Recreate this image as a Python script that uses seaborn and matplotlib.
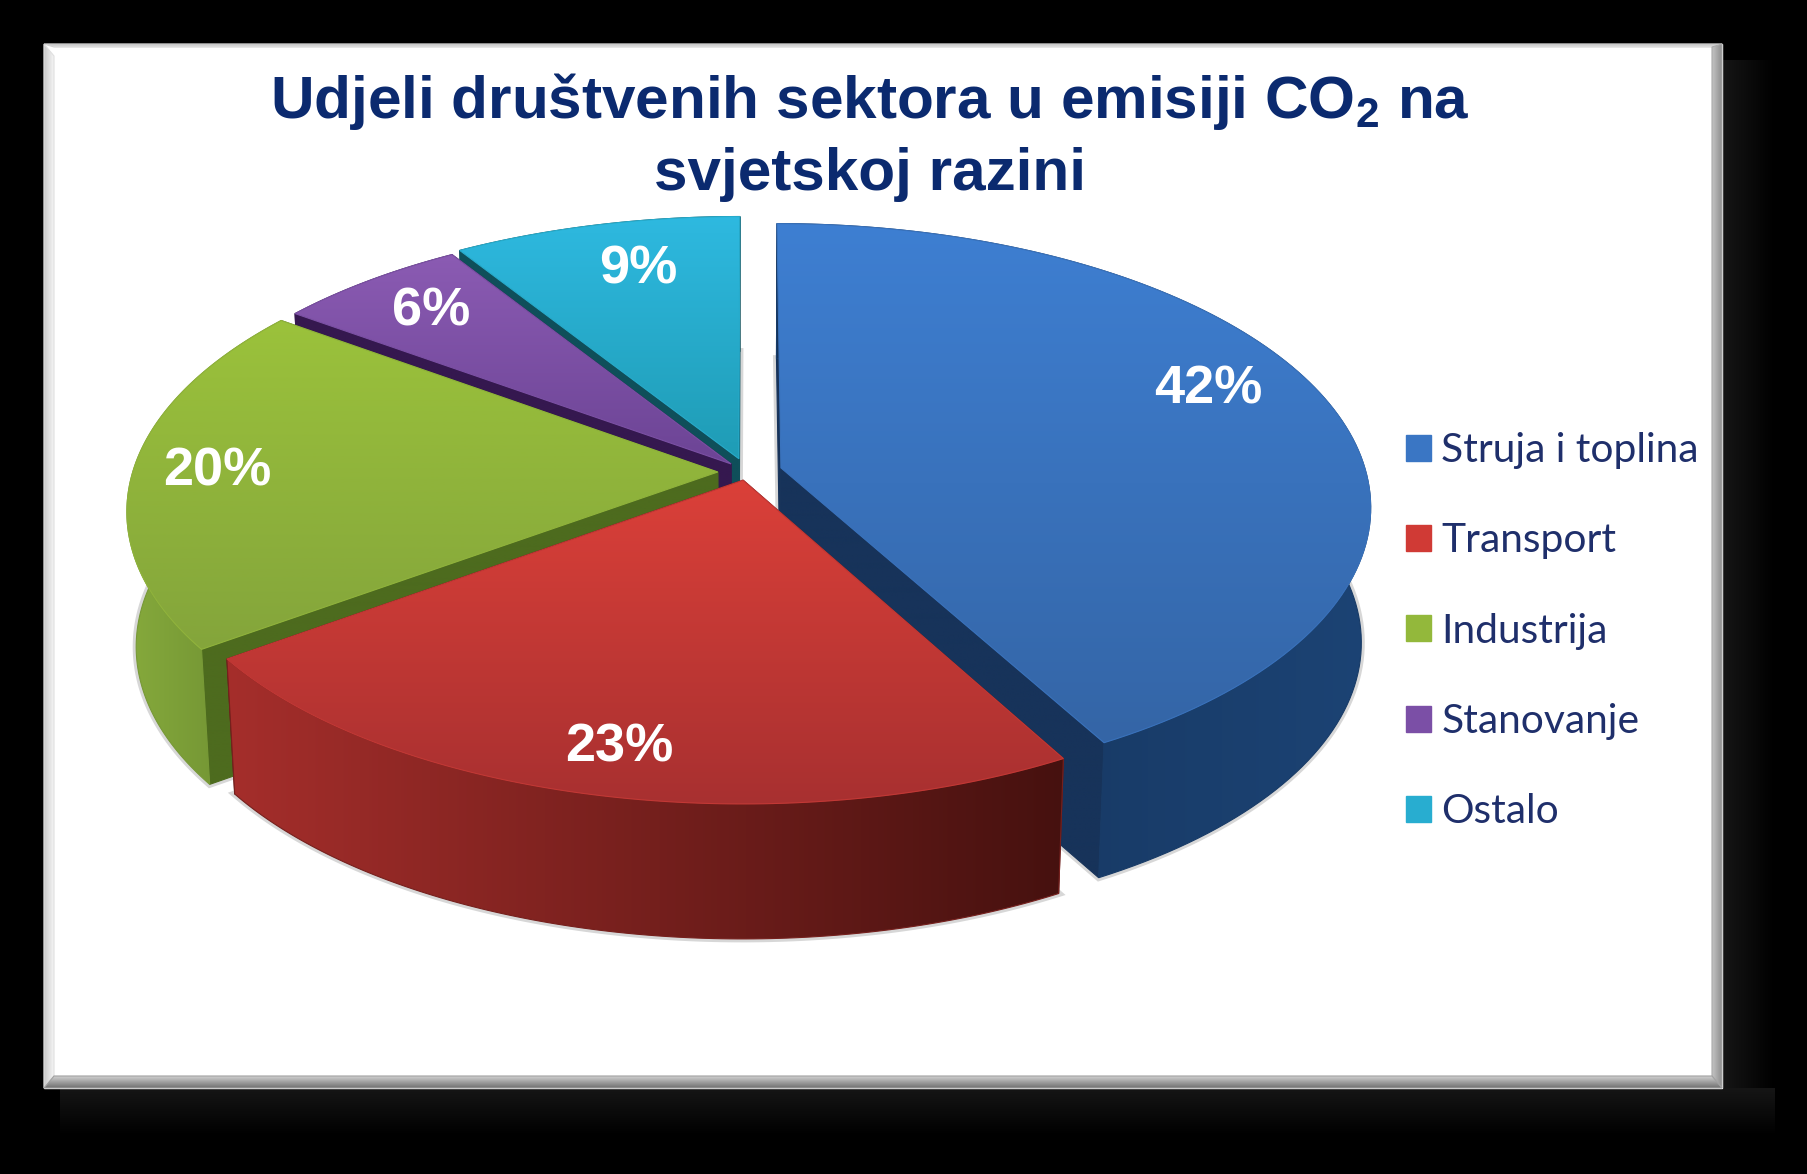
import numpy as np
import seaborn as sns
import matplotlib.pyplot as plt
from matplotlib.colors import to_rgb
from matplotlib.patches import Polygon, Patch

sns.set_theme(style='white')
plt.rcParams['font.family'] = ['Liberation Sans', 'DejaVu Sans']
plt.rcParams['mathtext.fontset'] = 'custom'
plt.rcParams['mathtext.rm'] = 'Liberation Sans:bold'
plt.rcParams['mathtext.default'] = 'rm'

sectors = ['Struja i toplina', 'Transport', 'Industrija', 'Stanovanje', 'Ostalo']
shares = [42, 23, 20, 6, 9]
explode = [0.06, 0.03, 0.05, 0.04, 0.05]

# top surface gradient (top, bottom)
top_colors = [('#3E7FD2', '#3465A6'), ('#DB4039', '#A83030'), ('#9BC23B', '#84A53B'),
              ('#8B5BB3', '#6C4495'), ('#2EB9E0', '#1F9CB5')]
# outer rim gradient (left, right), cut face colour
rim_colors = [('#14335A', '#1C4374'), ('#A52E2B', '#46110F'), ('#86AA3C', '#67872F'),
              ('#35184F', '#35184F'), ('#0F4F5A', '#0F4F5A')]
face_colors = ['#17335A', '#5E1614', '#4D6B1E', '#35184F', '#0F4F5A']
legend_colors = sns.color_palette(['#3A76C4', '#D03A35', '#93B83B', '#7B4FA6', '#28ADD0'])
label_xy = [(1208, 390), (619, 747), (217, 471), (431, 312), (638, 269)]

W, H = 1807, 1174
cx, cy = 747, 472
rx, ry, persp = 585, 278, 0.134
depth, shrink = 135, 0.985


def project(u, v):
    w = 1 + persp * v
    return cx + rx * u / w, cy - ry * v / w


def grad(poly, c0, c1, vertical=True, z=1, edge=True):
    poly = np.asarray(poly)
    x0, y0 = poly.min(axis=0)
    x1, y1 = poly.max(axis=0)
    t = np.linspace(0, 1, 256)[:, None]
    img = (1 - t) * np.array(to_rgb(c0)) + t * np.array(to_rgb(c1))
    img = img[:, None, :] if vertical else img[None, :, :]
    im = ax.imshow(img, extent=(x0, x1, y1, y0), aspect='auto', zorder=z, interpolation='bilinear')
    clip = Polygon(poly, closed=True, transform=ax.transData)
    im.set_clip_path(clip)
    if edge:
        mid = tuple((np.array(to_rgb(c0)) + np.array(to_rgb(c1))) / 2)
        ax.add_patch(Polygon(poly, closed=True, fill=False, ec=mid, lw=0.8, zorder=z))


def rect(x0, y0, x1, y1):
    return [(x0, y0), (x1, y0), (x1, y1), (x0, y1)]


fig = plt.figure(figsize=(W / 100, H / 100), dpi=100, facecolor='black')
ax = fig.add_axes([0, 0, 1, 1])
wedges, _ = ax.pie(shares, startangle=90, counterclock=False, explode=explode, radius=1)
for w in wedges:
    w.set_visible(False)
ax.set_aspect('auto')

# panel and its bevel
ax.add_patch(Polygon(rect(0, 0, W, H), color='black', zorder=0))
grad(rect(1722, 60, 1775, 1110), '#161616', '#000000', vertical=False, z=0.1, edge=False)
grad(rect(60, 1088, 1775, 1135), '#161616', '#000000', z=0.1, edge=False)
ax.add_patch(Polygon(rect(44, 44, 1722, 1088), color='white', zorder=0.2))
grad([(44, 44), (54, 56), (54, 1076), (44, 1088)], '#C8C8C8', '#F6F6F6', vertical=False, z=0.3)
grad([(44, 44), (1722, 44), (1712, 47), (54, 47)], '#B5B5B5', '#F0F0F0', z=0.3)
grad([(1712, 47), (1722, 44), (1722, 1088), (1712, 1076)], '#C4C4C4', '#8E8E8E', vertical=False, z=0.3)
grad([(44, 1088), (54, 1076), (1712, 1076), (1722, 1088)], '#D0D0D0', '#707070', z=0.3)

# build slice outlines from the pie wedges
arcs, apexes = [], []
for w in wedges:
    th = np.radians(np.linspace(w.theta1, w.theta2, 120))
    x, y = project(w.center[0] + w.r * np.cos(th), w.center[1] + w.r * np.sin(th))
    arcs.append(np.column_stack([x, y]))
    apexes.append(np.array(project(w.center[0], w.center[1])))


def lower(p):
    p = np.atleast_2d(p)
    return np.column_stack([cx + (p[:, 0] - cx) * shrink, p[:, 1] + depth])


# soft edge under the slices
for arc, apex in zip(arcs, apexes):
    outline = np.vstack([apex, arc])
    ax.add_patch(Polygon(lower(outline), closed=True, fc='#BDBDBD', ec='#BDBDBD', lw=5, alpha=0.6, zorder=0.5))

z = 1
for i in [4, 3, 2, 0, 1]:
    arc, apex = arcs[i], apexes[i]
    for end in (arc[0], arc[-1]):
        face = np.vstack([apex, end, lower(end), lower(apex)])
        grad(face, face_colors[i], face_colors[i], z=z)
    band = np.vstack([arc, lower(arc)[::-1]])
    grad(band, rim_colors[i][0], rim_colors[i][1], vertical=False, z=z + 0.1)
    grad(np.vstack([apex, arc]), top_colors[i][0], top_colors[i][1], z=z + 0.2)
    z += 1

ax.set_xlim(0, W)
ax.set_ylim(H, 0)

for (lx, ly), s in zip(label_xy, shares):
    ax.text(lx, ly, f'{s}%', color='white', fontsize=39, fontweight='bold', ha='center', va='center', zorder=10)

title_color = '#0B2A6F'
ax.text(870, 118, 'Udjeli društvenih sektora u emisiji CO$_{2}$ na', color=title_color, fontsize=43.4,
        fontweight='bold', ha='center', va='baseline', zorder=10)
ax.text(870, 190, 'svjetskoj razini', color=title_color, fontsize=43.4, fontweight='bold',
        ha='center', va='baseline', zorder=10)

handles = [Patch(color=c, label=s) for c, s in zip(legend_colors, sectors)]
leg = ax.legend(handles=handles, loc='upper left', bbox_to_anchor=(1406 / W, 1 - 432 / H), frameon=False,
                prop={'family': 'Lato', 'size': 29.3}, labelcolor='#1F2F6B', handlelength=0.62,
                handleheight=0.6, handletextpad=0.25, labelspacing=1.31, borderpad=0, borderaxespad=0)
leg.set_zorder(10)

fig.savefig('out.png', dpi=100, facecolor='black')
